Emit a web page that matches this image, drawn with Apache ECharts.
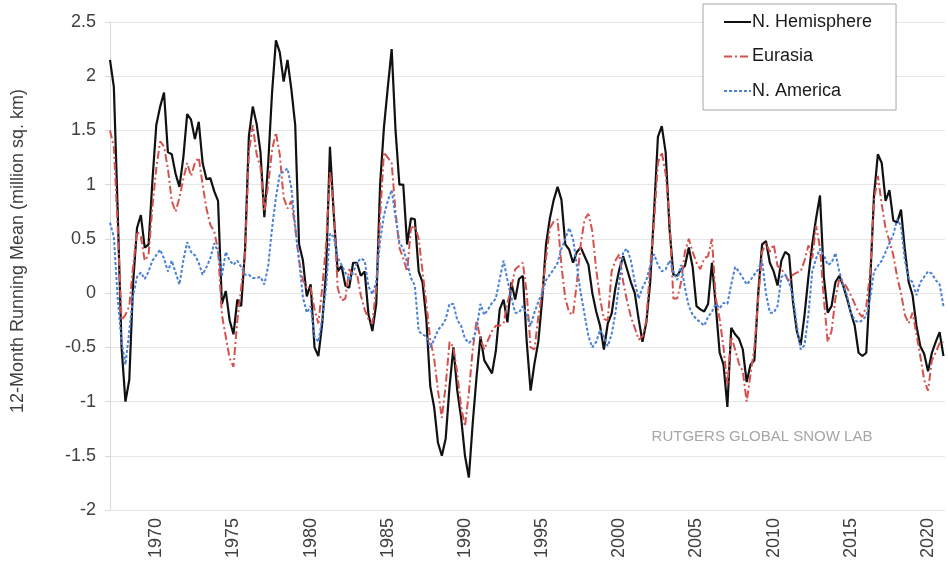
<!DOCTYPE html>
<html>
<head>
<meta charset="utf-8">
<script src="https://cdn.jsdelivr.net/npm/echarts@6/dist/echarts.min.js"></script>
<style>
html,body{margin:0;padding:0;background:#fff;}
#chart{width:948px;height:573px;}
</style>
</head>
<body>
<div id="chart"></div>
<script>
// Quarterly samples of the 12-month running mean, starting 1967.0
const startYear = 1967;
const stepYears = 0.25;

const nHemisphere = [
  2.15, 1.9, 0.75, -0.5, -1.0, -0.8, 0.1, 0.6, 0.72, 0.42,
  0.45, 1.04, 1.55, 1.72, 1.85, 1.3, 1.28, 1.1, 0.98, 1.25,
  1.65, 1.6, 1.42, 1.58, 1.2, 1.05, 1.06, 0.94, 0.85, -0.1,
  0.02, -0.25, -0.38, -0.06, -0.12, 0.4, 1.45, 1.72, 1.56, 1.3,
  0.7, 1.2, 1.85, 2.33, 2.22, 1.95, 2.15, 1.88, 1.55, 0.45,
  0.3, -0.03, 0.08, -0.5, -0.58, -0.28, 0.2, 1.35, 0.72, 0.2,
  0.25, 0.07, 0.05, 0.28, 0.28, 0.16, 0.2, -0.2, -0.35, -0.1,
  1.0, 1.53, 1.9, 2.25, 1.5, 1.0, 1.0, 0.45, 0.69, 0.68,
  0.2, 0.1, -0.25, -0.86, -1.05, -1.38, -1.5, -1.34, -0.86, -0.5,
  -0.9, -1.15, -1.5, -1.7, -1.2, -0.77, -0.4, -0.62, -0.68, -0.74,
  -0.53, -0.15, -0.06, -0.27, 0.1, -0.06, 0.13, 0.16, -0.45, -0.9,
  -0.65, -0.45, -0.06, 0.45, 0.69, 0.86, 0.98, 0.86, 0.45, 0.4,
  0.28, 0.38, 0.42, 0.34, 0.26, 0.0, -0.17, -0.3, -0.52, -0.28,
  -0.19, 0.05, 0.22, 0.34, 0.22, 0.1, 0.0, -0.24, -0.45, -0.27,
  0.1, 0.75, 1.44, 1.54, 1.3, 0.6, 0.17, 0.16, 0.22, 0.25,
  0.42, 0.24, -0.12, -0.15, -0.17, -0.1, 0.28, -0.12, -0.55, -0.66,
  -1.05, -0.32, -0.38, -0.42, -0.52, -0.82, -0.66, -0.62, 0.0, 0.45,
  0.48, 0.28, 0.2, 0.07, 0.3, 0.38, 0.35, -0.08, -0.35, -0.48,
  -0.2, 0.15, 0.45, 0.69, 0.9, 0.15, -0.18, -0.12, 0.1, 0.16,
  0.07, -0.05, -0.18, -0.3, -0.55, -0.58, -0.55, 0.1, 0.9, 1.28,
  1.2, 0.85, 0.95, 0.67, 0.65, 0.77, 0.4, 0.1, -0.02, -0.3,
  -0.49, -0.56, -0.72, -0.55, -0.45, -0.36, -0.58
];

const eurasia = [
  1.5, 1.35, 0.6, -0.25, -0.2, -0.12, 0.25, 0.57, 0.52, 0.3,
  0.35, 0.8, 1.15, 1.4, 1.35, 1.15, 0.85, 0.75, 0.88, 1.05,
  1.2, 1.08, 1.2, 1.25, 1.0, 0.78, 0.63, 0.57, 0.4, -0.2,
  -0.4, -0.6, -0.68, -0.25, 0.05, 0.35, 1.3, 1.55, 1.28, 1.16,
  0.75, 1.0, 1.32, 1.48, 1.28, 0.88, 0.78, 0.85, 0.6, 0.3,
  0.12, 0.05, 0.05, -0.15, -0.28, 0.05, 0.45, 1.12, 0.8, 0.05,
  -0.07, -0.05, 0.22, 0.16, 0.18, -0.02, -0.15, -0.24, -0.28, 0.05,
  0.7, 1.3, 1.25, 1.2, 0.75, 0.42, 0.32, 0.2, 0.6, 0.62,
  0.5, 0.2, -0.1, -0.43, -0.6, -0.9, -1.15, -0.85, -0.45, -0.5,
  -0.74, -1.05, -1.23, -0.92, -0.52, -0.25, -0.42, -0.52, -0.43, -0.35,
  -0.3, -0.3, -0.28, -0.09, 0.05, 0.22, 0.25, 0.28, 0.0, -0.5,
  -0.52, -0.22, 0.0, 0.32, 0.6, 0.66, 0.68, 0.25, -0.05, -0.18,
  -0.2, 0.1, 0.45, 0.68, 0.73, 0.57, 0.22, -0.05, -0.24, -0.25,
  0.2, 0.3, 0.36, 0.1, -0.07, -0.22, -0.32, -0.43, -0.4, -0.25,
  0.25, 0.65, 1.2, 1.3, 1.1, 0.7, -0.05, -0.05, 0.1, 0.38,
  0.5, 0.38, 0.28, 0.22, 0.32, 0.34, 0.5, -0.05, -0.24, -0.5,
  -0.85, -0.4, -0.52, -0.65, -0.72, -1.0, -0.75, -0.5, -0.05, 0.38,
  0.46, 0.38, 0.45, 0.25, 0.22, 0.17, 0.1, 0.17, 0.19, 0.2,
  0.3, 0.44, 0.32, 0.62, 0.42, -0.05, -0.45, -0.35, -0.05, 0.13,
  0.1, 0.05, -0.02, -0.1, -0.18, -0.22, -0.12, 0.19, 0.85, 1.08,
  0.82, 0.6, 0.48, 0.35, 0.15, 0.0, -0.2, -0.28, -0.18, -0.38,
  -0.58, -0.8, -0.9, -0.62, -0.55, -0.46, -0.45
];

const nAmerica = [
  0.65, 0.52, -0.05, -0.45, -0.66, -0.35, -0.02, 0.15, 0.19, 0.13,
  0.2, 0.3, 0.35, 0.4, 0.32, 0.2, 0.3, 0.19, 0.08, 0.3,
  0.47, 0.38, 0.35, 0.28, 0.17, 0.24, 0.32, 0.46, 0.38, 0.16,
  0.38, 0.3, 0.26, 0.3, 0.24, 0.17, 0.17, 0.14, 0.14, 0.15,
  0.08, 0.25, 0.6, 0.88, 1.1, 1.12, 1.15, 0.97, 0.62, 0.3,
  -0.04, -0.18, -0.12, -0.4, -0.45, -0.23, 0.05, 0.55, 0.52, 0.33,
  0.26, 0.19, 0.12, 0.19, 0.28, 0.32, 0.3, 0.06, -0.01, 0.1,
  0.48, 0.72, 0.85, 0.95, 0.7, 0.47, 0.41, 0.28, 0.14, 0.07,
  -0.35, -0.38, -0.4, -0.5, -0.43, -0.34, -0.3, -0.24, -0.1, -0.1,
  -0.25, -0.3, -0.42, -0.46, -0.43, -0.34, -0.1, -0.2, -0.15, -0.09,
  -0.05, 0.13, 0.3, 0.12, -0.04, -0.18, -0.18, -0.12, -0.2, -0.3,
  -0.18, -0.08, 0.0, 0.12, 0.17, 0.22, 0.28, 0.41, 0.5, 0.6,
  0.5, 0.25, 0.0, -0.2, -0.4, -0.5, -0.45, -0.34, -0.4, -0.49,
  -0.38, -0.18, 0.1, 0.38, 0.41, 0.3, 0.1, -0.05, 0.05, 0.12,
  0.25, 0.36, 0.26, 0.2, 0.22, 0.3, 0.2, 0.12, 0.26, 0.05,
  -0.12, -0.2, -0.24, -0.27, -0.3, -0.22, -0.17, -0.1, -0.14, -0.09,
  -0.1, 0.08, 0.24, 0.2, 0.14, 0.08, 0.12, 0.17, 0.22, 0.3,
  0.0, -0.18, -0.18, -0.12, 0.15, 0.17, 0.1, -0.03, -0.3, -0.52,
  -0.48, -0.2, 0.2, 0.32, 0.41, 0.35, 0.26, 0.28, 0.37, 0.2,
  0.08, -0.02, -0.18, -0.25, -0.27, -0.25, -0.21, -0.05, 0.2, 0.25,
  0.3, 0.38, 0.46, 0.54, 0.68, 0.62, 0.3, 0.14, 0.1, -0.02,
  0.1, 0.15, 0.2, 0.18, 0.12, 0.08, -0.12
];

const yearLabels = [1970, 1975, 1980, 1985, 1990, 1995, 2000, 2005, 2010, 2015, 2020];
const seriesNames = ['N. Hemisphere', 'Eurasia', 'N. America'];
const axisTitle = '12-Month Running Mean (million sq. km)';
const creditText = 'RUTGERS GLOBAL SNOW LAB';

function toPairs(arr) {
  return arr.map(function (v, i) { return [startYear + i * stepYears, v]; });
}

const FONT = 'Liberation Sans, Arial, Helvetica, sans-serif';
const chart = echarts.init(document.getElementById('chart'), null, { renderer: 'canvas' });

chart.setOption({
  animation: false,
  backgroundColor: '#ffffff',
  textStyle: { fontFamily: FONT },
  grid: { left: 110, right: 3, top: 22, bottom: 63, containLabel: false },
  legend: {
    orient: 'vertical',
    left: 703,
    top: 4,
    padding: [9, 24, 10, 20],
    itemWidth: 27,
    itemHeight: 14,
    itemGap: 16.5,
    borderColor: '#a6a6a6',
    borderWidth: 1,
    backgroundColor: '#ffffff',
    itemStyle: { opacity: 0 },
    textStyle: { fontSize: 18, color: '#1a1a1a', fontFamily: FONT, padding: [0, 0, 0, -4] },
    data: seriesNames
  },
  xAxis: {
    type: 'value',
    min: 1967,
    max: 2021.1,
    axisLine: { show: false },
    axisTick: { show: false },
    splitLine: { show: false },
    axisLabel: {
      customValues: yearLabels,
      formatter: function (v) { return String(Math.round(v)); },
      rotate: 90,
      fontSize: 18,
      color: '#404040',
      margin: 8,
      fontFamily: FONT
    }
  },
  yAxis: {
    type: 'value',
    min: -2,
    max: 2.5,
    interval: 0.5,
    axisLine: { show: true, lineStyle: { color: '#d9d9d9', width: 1 } },
    axisTick: { show: true, length: 5, lineStyle: { color: '#d9d9d9' } },
    splitLine: { show: true, lineStyle: { color: '#e6e6e6', width: 1 } },
    axisLabel: { fontSize: 18, color: '#404040', margin: 14, fontFamily: FONT }
  },
  graphic: [
    {
      type: 'text',
      x: 18,
      y: 251,
      rotation: Math.PI / 2,
      style: {
        text: axisTitle,
        fontSize: 18,
        fontFamily: FONT,
        fill: '#404040',
        align: 'center',
        verticalAlign: 'middle'
      }
    },
    {
      type: 'text',
      x: 762,
      y: 437,
      style: {
        text: creditText,
        fontSize: 15,
        fontFamily: FONT,
        fill: '#a6a6a6',
        align: 'center',
        verticalAlign: 'middle'
      }
    }
  ],
  series: [
    {
      name: seriesNames[0],
      type: 'line',
      data: toPairs(nHemisphere),
      symbol: 'none',
      smooth: false,
      color: '#111111',
      lineStyle: { color: '#111111', width: 2.2 }
    },
    {
      name: seriesNames[1],
      type: 'line',
      data: toPairs(eurasia),
      symbol: 'none',
      color: '#d4524e',
      lineStyle: { color: '#d4524e', width: 2, type: [8, 3, 2, 3] }
    },
    {
      name: seriesNames[2],
      type: 'line',
      data: toPairs(nAmerica),
      symbol: 'none',
      color: '#4a80d6',
      lineStyle: { color: '#4a80d6', width: 2, type: [3, 2] }
    }
  ]
});
</script>
</body>
</html>
